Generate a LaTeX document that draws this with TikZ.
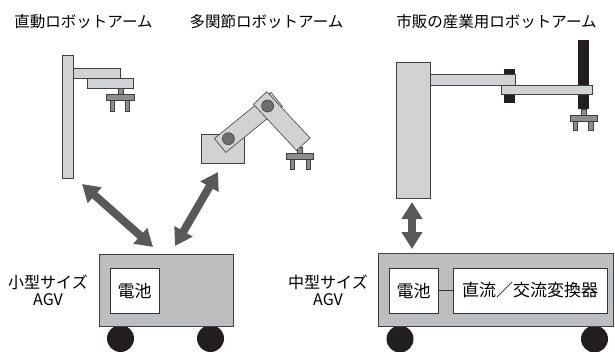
\documentclass[tikz,border=0pt]{standalone}
\usepackage{fontspec}
\setmainfont{Noto Sans CJK JP}
\usepackage{tikz}
\usetikzlibrary{fit,calc,arrows.meta}
\definecolor{armgray}{HTML}{D1D2D4}
\definecolor{basegray}{HTML}{BCBEC0}
\definecolor{gripgray}{HTML}{8C8D8F}
\definecolor{jointgray}{HTML}{6D6E71}
\definecolor{movegray}{HTML}{58595B}
\definecolor{darkpart}{HTML}{231F20}

\begin{document}
\begin{tikzpicture}[x=1pt,y=-1pt]
        \tikzstyle{part} = [draw=black!75,fill=armgray,line width=0.6pt,inner sep=0pt]
        \tikzstyle{grip} = [part,fill=gripgray]
        \tikzstyle{black part} = [fill=darkpart,inner sep=0pt]
        \tikzstyle{joint} = [draw=black!75,fill=jointgray,shape=circle,minimum size=12pt,inner sep=0pt,line width=0.6pt]
        \tikzstyle{body} = [draw=black!75,fill=basegray,line width=0.8pt,inner sep=0pt]
        \tikzstyle{box} = [draw=black!80,fill=white,line width=0.8pt,inner sep=0pt,font=\fontsize{17}{20}\selectfont]
        \tikzstyle{wheel} = [fill=darkpart,shape=circle,minimum size=27pt,inner sep=0pt]
        \tikzstyle{title} = [font=\fontsize{15.5}{18}\selectfont]
        \tikzstyle{size} = [align=center,font=\fontsize{16}{17}\selectfont]
        \tikzstyle{move} = [line width=8pt,movegray,{Triangle[width=20pt,length=17pt]}-{Triangle[width=20pt,length=17pt]}]
        %
        \useasboundingbox (0,0) rectangle (615,351);
        % Titles.
        \node[title] (t1) at (83.5,22) {直動ロボットアーム};
        \node[title] (t2) at (266.5,22) {多関節ロボットアーム};
        \node[title] (t3) at (496.5,22) {市販の産業用ロボットアーム};
        % Linear arm.
        \node[part,fit={(62,55) (73,178)}] (post) {};
        \node[part,fit={(73,68) (120,78)}] (bar1) {};
        \node[part,fit={(87,78) (133,88)}] (bar2) {};
        \node[grip,fit={(118,88) (123,94)}] (stem1) {};
        \node[grip,fit={(106,94) (134,100)}] (plate1) {};
        \node[grip,fit={(110.5,100) (114.5,111)}] (f11) {};
        \node[grip,fit={(125.5,100) (129.5,111)}] (f12) {};
        % Articulated arm.
        \node[part,fit={(201,134) (244,163)}] (base) {};
        \node[part,minimum width=73pt,minimum height=18pt,rotate=39.2] (link1) at (248.4,122.4) {};
        \node[grip,fit={(297,147) (302,153)}] (stem2) {};
        \node[grip,fit={(286,153) (313,159)}] (plate2) {};
        \node[grip,fit={(290,159) (294,169)}] (f21) {};
        \node[grip,fit={(306,159) (310,169)}] (f22) {};
        \node[part,minimum width=63.3pt,minimum height=18.4pt,rotate=-46.9] (link2) at (281.7,121.1) {};
        \node[joint] (jA) at ($(link1.west)!11pt!(link1.east)$) {};
        \node[joint] (jB) at ($(link2.west)!11.3pt!(link2.east)$) {};
        % Industrial arm.
        \node[black part,fit={(504,69) (515,103)}] (elbow) {};
        \node[black part,fit={(578,40) (589,109)}] (shaft) {};
        \node[part,fit={(396,62) (430,198)}] (column) {};
        \node[part,fit={(430,74) (515,85)}] (arm1) {};
        \node[part,fit={(501,85) (592,94)}] (arm2) {};
        \node[grip,fit={(581,109) (586,115)}] (stem3) {};
        \node[grip,fit={(570,115) (597,121)}] (plate3) {};
        \node[grip,fit={(573,121) (577.5,130)}] (f31) {};
        \node[grip,fit={(588.5,121) (593,130)}] (f32) {};
        % Small AGV.
        \node[wheel] (w11) at (120.5,338.5) {};
        \node[wheel] (w12) at (210.5,338.5) {};
        \node[body,fit={(99,254) (233,326)}] (agv1) {};
        \node[box,minimum width=49pt,minimum height=45pt] (bat1) at (134.5,290.5) {電池};
        \node[size] (lab1) at (48,290) {小型サイズ\\AGV};
        % Medium AGV.
        \node[wheel] (w21) at (400,339) {};
        \node[wheel] (w22) at (594.5,339) {};
        \node[body,fit={(378,253) (613,326)}] (agv2) {};
        \node[box,minimum width=49pt,minimum height=45pt] (bat2) at (413.5,290.5) {電池};
        \node[box,minimum width=154pt,minimum height=45pt] (conv) at (530,290.5) {直流／交流変換器};
        \node[size] (lab2) at (328,290) {中型サイズ\\AGV};
        \draw[black!80,line width=0.8pt] (bat2) -- (conv);
        % Mounting arrows.
        \coordinate (m1a) at (82,184);
        \coordinate (m1b) at (153,247);
        \coordinate (m2a) at (218,172);
        \coordinate (m2b) at (175,246);
        \coordinate (m3a) at (412,202);
        \coordinate (m3b) at (412,249);
        \draw[move] (m1a) -- (m1b);
        \draw[move] (m2a) -- (m2b);
        \draw[move] (m3a) -- (m3b);
        %
\end{tikzpicture}
\end{document}
